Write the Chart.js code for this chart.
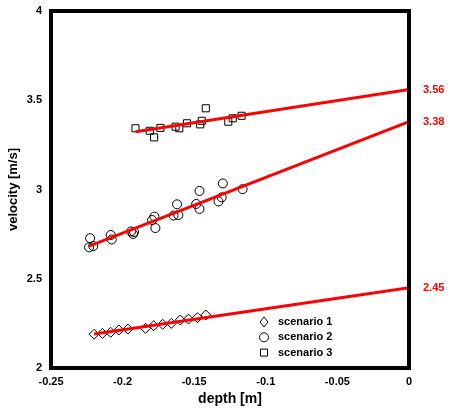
<!DOCTYPE html>
<html>
<head>
<meta charset="utf-8">
<script src="https://cdn.jsdelivr.net/npm/chart.js@4"></script>
<style>
  html, body { margin: 0; padding: 0; background: #fff; }
  #wrap { width: 450px; height: 413px; }
</style>
</head>
<body>
<div id="wrap"><canvas id="chart" width="450" height="413"></canvas></div>
<script>
const depth1 = [-0.2199, -0.2141, -0.2083, -0.2026, -0.1963, -0.184, -0.1783, -0.172, -0.166, -0.1597, -0.154, -0.1477, -0.1419];
const vel1 = [2.189, 2.194, 2.200, 2.213, 2.218, 2.222, 2.237, 2.245, 2.250, 2.269, 2.274, 2.282, 2.297];

const depth2 = [-0.2234, -0.2227, -0.2205, -0.2083, -0.2076, -0.1941, -0.1927, -0.192, -0.1778, -0.1794, -0.1771, -0.162, -0.1644, -0.1611, -0.1486, -0.1463, -0.1463, -0.133, -0.130, -0.1308, -0.1162];
const vel2 = [2.676, 2.727, 2.683, 2.745, 2.720, 2.765, 2.751, 2.762, 2.848, 2.829, 2.784, 2.917, 2.854, 2.857, 2.919, 2.992, 2.891, 2.933, 3.034, 2.956, 3.002];

const depth3 = [-0.191, -0.181, -0.178, -0.1736, -0.163, -0.1604, -0.155, -0.1458, -0.1447, -0.1419, -0.1262, -0.1231, -0.1169];
const vel3 = [3.343, 3.329, 3.292, 3.345, 3.352, 3.343, 3.371, 3.365, 3.385, 3.455, 3.380, 3.399, 3.413];

// fitted lines, extended to the surface
const fitX1 = [-0.2199, 0];
const fitY1 = [2.19, 2.45];
const fitX2 = [-0.2234, 0];
const fitY2 = [2.683, 3.38];
const fitX3 = [-0.191, 0];
const fitY3 = [3.324, 3.56];

const seriesNames = ['scenario 1', 'scenario 2', 'scenario 3'];
const xTicks = [-0.25, -0.2, -0.15, -0.1, -0.05, 0];
const xTickLabels = ['-0.25', '-0.2', '-0.15', '-0.1', '-0.05', '0'];
const yTicks = [2, 2.5, 3, 3.5, 4];
const yTickLabels = ['2', '2.5', '3', '3.5', '4'];

const FONT = 'Arial, "Liberation Sans", sans-serif';
const toPts = (xs, ys) => xs.map((x, i) => ({ x: x, y: ys[i] }));

function fitLine(xs, ys) {
  return {
    type: 'line', data: toPts(xs, ys), borderColor: '#ff0000', borderWidth: 3,
    pointRadius: 0, fill: false, order: 0
  };
}

function scatter(label, xs, ys, style, r) {
  return {
    label: label, data: toPts(xs, ys), pointStyle: style, pointRadius: r,
    pointBorderColor: '#000', pointBackgroundColor: 'rgba(255,255,255,0)',
    pointBorderWidth: 1, showLine: false, order: 1
  };
}

const markerStyles = ['rectRot', 'circle', 'rect'];
const markerSizes = [5, 4.5, 5];

// frame, legend and red end values
const extras = {
  id: 'extras',
  afterDraw(chart) {
    const { ctx, chartArea: a, scales } = chart;
    ctx.save();
    ctx.strokeStyle = '#000';
    ctx.lineWidth = 4;
    ctx.strokeRect(a.left, a.top, a.right - a.left, a.bottom - a.top);

    ctx.fillStyle = '#ff0000';
    ctx.font = 'bold 11px ' + FONT;
    ctx.textAlign = 'left';
    ctx.textBaseline = 'middle';
    [fitY1, fitY2, fitY3].forEach(ys => {
      const v = ys[ys.length - 1];
      ctx.fillText(v.toFixed(2), a.right + 14, scales.y.getPixelForValue(v));
    });

    ctx.fillStyle = '#000';
    const lx = a.left + 213, ly = a.bottom - 46;
    seriesNames.forEach((name, i) => {
      const y = ly + i * 15.3;
      ctx.lineWidth = 1;
      ctx.strokeStyle = '#000';
      ctx.beginPath();
      if (markerStyles[i] === 'rectRot') {
        ctx.moveTo(lx, y - 5); ctx.lineTo(lx + 4, y); ctx.lineTo(lx, y + 5); ctx.lineTo(lx - 4, y); ctx.closePath();
      } else if (markerStyles[i] === 'circle') {
        ctx.arc(lx, y, 4.5, 0, Math.PI * 2);
      } else {
        ctx.rect(lx - 3.5, y - 3.5, 7, 7);
      }
      ctx.stroke();
      ctx.fillText(name, lx + 14, y);
    });
    ctx.restore();
  }
};

new Chart(document.getElementById('chart'), {
  type: 'scatter',
  data: {
    datasets: [
      fitLine(fitX1, fitY1), fitLine(fitX2, fitY2), fitLine(fitX3, fitY3),
      scatter(seriesNames[0], depth1, vel1, markerStyles[0], markerSizes[0]),
      scatter(seriesNames[1], depth2, vel2, markerStyles[1], markerSizes[1]),
      scatter(seriesNames[2], depth3, vel3, markerStyles[2], markerSizes[2])
    ]
  },
  options: {
    responsive: false,
    animation: false,
    layout: { padding: { top: 11, right: 41, left: 0, bottom: 0 } },
    plugins: { legend: { display: false }, tooltip: { enabled: false } },
    scales: {
      x: {
        type: 'linear', min: -0.25, max: 0,
        grid: { display: false, drawTicks: false },
        border: { display: false },
        afterBuildTicks: s => { s.ticks = xTicks.map(v => ({ value: v })); },
        afterFit: s => { s.height = 45; s.paddingLeft = 0; s.paddingRight = 0; },
        ticks: {
          padding: 7, color: '#000', maxRotation: 0,
          font: { family: FONT, size: 11, weight: 'bold' },
          callback: (v, i) => xTickLabels[i]
        },
        title: {
          display: true, text: 'depth [m]', color: '#000', padding: { top: 0, bottom: 5 },
          font: { family: FONT, size: 14, weight: 'bold' }
        }
      },
      y: {
        type: 'linear', min: 2, max: 4,
        grid: { display: false, drawTicks: false },
        border: { display: false },
        afterBuildTicks: s => { s.ticks = yTicks.map(v => ({ value: v })); },
        afterFit: s => { s.width = 51; s.paddingTop = 0; s.paddingBottom = 0; },
        ticks: {
          padding: 9, color: '#000',
          font: { family: FONT, size: 11, weight: 'bold' },
          callback: (v, i) => yTickLabels[i]
        },
        title: {
          display: true, text: 'velocity [m/s]', color: '#000', padding: { top: 6, bottom: 6 },
          font: { family: FONT, size: 13, weight: 'bold' }
        }
      }
    }
  },
  plugins: [extras]
});
</script>
</body>
</html>
